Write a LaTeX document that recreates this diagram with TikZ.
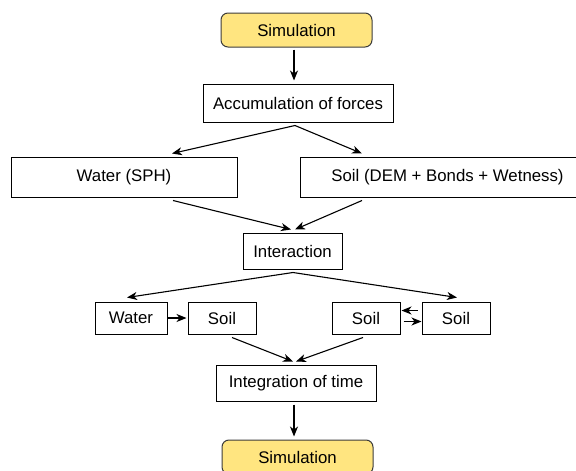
\documentclass[tikz,border=0pt]{standalone}
\usepackage{fontspec}
\setmainfont{Liberation Sans}
\usetikzlibrary{arrows.meta,calc}
\definecolor{simfill}{RGB}{255,229,128}
\definecolor{simline}{RGB}{60,60,60}
\begin{document}
\begin{tikzpicture}[x=1pt, y=1pt, yscale=-1,
    box/.style={draw, line width=1pt, inner sep=0pt, minimum height=36pt,
      font=\fontsize{16.8}{19}\selectfont},
    simbox/.style={box, rounded corners=7pt, fill=simfill, draw=simline,
      minimum width=151pt, minimum height=34pt},
    arr/.style={-{Stealth[length=10pt,width=8pt,inset=3pt]}, line width=1.1pt}]
  \useasboundingbox (0,0) rectangle (576,471);
  \node[simbox] (sim1) at (296.5,30) {Simulation};
  \node[box, minimum width=190pt, minimum height=38pt] (acc) at (298,103) {Accumulation of forces};
  \node[box, minimum width=226pt, minimum height=40pt] (water) at (124,177) {Water (SPH)};
  \node[box, minimum width=295pt, minimum height=40pt] (soil) at (447.5,177) {Soil (DEM + Bonds + Wetness)};
  \node[box, minimum width=99pt] (inter) at (292.5,251) {Interaction};
  \node[box, minimum width=72pt, minimum height=32pt] (waters) at (131,318) {Water};
  \node[box, minimum width=68pt, minimum height=32pt] (soila) at (222,318) {Soil};
  \node[box, minimum width=68pt, minimum height=32pt] (soilb) at (366,318) {Soil};
  \node[box, minimum width=68pt, minimum height=32pt] (soilc) at (456,318) {Soil};
  \node[box, minimum width=160pt] (integ) at (296,383) {Integration of time};
  \node[simbox] (sim2) at (297.5,457) {Simulation};
  % top part
  \draw[arr] ($(sim1.south)+(-2.5,2)$) -- ($(acc.north)+(-4,-3)$);
  \draw[arr] ($(acc.south)+(-3,3)$) -- ($(water.north)+(48,-3)$);
  \draw[arr] ($(acc.south)+(-3,3)$) -- ($(soil.north)+(-85.5,-3)$);
  \draw[arr] ($(water.south)+(49,3)$) -- ($(inter.north)+(-1.5,-3)$);
  \draw[arr] ($(soil.south)+(-85.5,3)$) -- ($(inter.north)+(2.5,-3)$);
  % interaction pairs
  \draw[arr] ($(inter.south)+(0.5,3)$) -- ($(waters.north)+(-4,-4)$);
  \draw[arr] ($(inter.south)+(0.5,3)$) -- ($(soilc.north)+(1,-4)$);
  \draw[arr, shorten >=1pt] (waters.east) -- (soila.west);
  \draw[arr] ($(soilc.west)+(-4,-7.5)$) -- ($(soilb.east)+(1,-7.5)$);
  \draw[arr] ($(soilb.east)+(3,3.5)$) -- ($(soilc.west)+(0,3.5)$);
  % bottom part
  \draw[arr] ($(soila.south)+(10,3)$) -- ($(integ.north)+(-3,-3)$);
  \draw[arr] ($(soilb.south)+(-3,3)$) -- ($(integ.north)+(0,-3)$);
  \draw[arr] ($(integ.south)+(-2,3)$) -- ($(sim2.north)+(-3.5,-3)$);
\end{tikzpicture}
\end{document}
